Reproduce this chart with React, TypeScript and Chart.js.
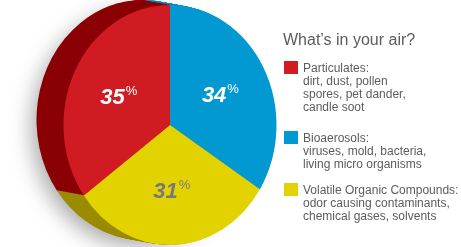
import { useEffect, useRef } from "react";
import { Chart, registerables } from "chart.js";

Chart.register(...registerables);

// ---- data ----
const categories = ["Bioaerosols", "Volatile Organic Compounds", "Particulates"];
const values = [34, 31, 35];
const percentLabels = ["34", "31", "35"];
const frontColors = ["#0299d3", "#e2d300", "#d11b23"];
const sideColors = ["#0a86bf", "#9a8b00", "#8a0005"];
const labelColors = ["#ffffff", "#77787b", "#ffffff"];

const legendTitle = "What’s in your air?";
const legendColors = ["#d11b23", "#0299d3", "#e2d300"];
const particulatesLines = ["Particulates:", "dirt, dust, pollen", "spores, pet dander,", "candle soot"];
const bioaerosolsLines = ["Bioaerosols:", "viruses, mold, bacteria,", "living micro organisms"];
const vocLines = ["Volatile Organic Compounds:", "odor causing contaminants,", "chemical gases, solvents"];
const legendLines = [particulatesLines, bioaerosolsLines, vocLines];
const legendTops = [61, 131, 183];

// ---- 3d look ----
const SX = 0.8875;
const DEPTH_X = -27;
const DEPTH_Y = -5;
const STEPS = 30;
const LABEL_R = 0.54;

function arcPath(ctx: CanvasRenderingContext2D, p: any) {
  ctx.beginPath();
  ctx.moveTo(p.x, p.y);
  ctx.arc(p.x, p.y, p.outerRadius, p.startAngle, p.endAngle);
  ctx.closePath();
}

const pie3d = {
  id: "pie3d",
  beforeDatasetsDraw(chart: any) {
    const ctx: CanvasRenderingContext2D = chart.ctx;
    const arcs = chart.getDatasetMeta(0).data;
    if (!arcs.length) return;
    const first = arcs[0].getProps(["x", "y", "outerRadius"]);
    const cx = first.x;
    const cy = first.y;
    // soft shadow behind the back face
    ctx.save();
    ctx.translate(cx + DEPTH_X, cy + DEPTH_Y);
    ctx.scale(SX, 1);
    ctx.translate(-cx, -cy);
    ctx.shadowColor = "rgba(0,0,0,0.35)";
    ctx.shadowBlur = 22;
    ctx.shadowOffsetX = -6;
    ctx.shadowOffsetY = 8;
    ctx.beginPath();
    ctx.arc(cx, cy, first.outerRadius - 2, 0, Math.PI * 2);
    ctx.fillStyle = sideColors[2];
    ctx.fill();
    ctx.restore();
    // extruded side
    for (let i = STEPS; i >= 1; i--) {
      const t = i / STEPS;
      ctx.save();
      ctx.translate(cx + DEPTH_X * t, cy + DEPTH_Y * t);
      ctx.scale(SX, 1);
      ctx.translate(-cx, -cy);
      arcs.forEach((arc: any, k: number) => {
        const p = arc.getProps(["x", "y", "startAngle", "endAngle", "outerRadius"]);
        arcPath(ctx, p);
        ctx.fillStyle = sideColors[k];
        ctx.fill();
      });
      ctx.restore();
    }
    ctx.save();
    ctx.translate(cx, cy);
    ctx.scale(SX, 1);
    ctx.translate(-cx, -cy);
  },
  afterDatasetsDraw(chart: any) {
    const ctx: CanvasRenderingContext2D = chart.ctx;
    const arcs = chart.getDatasetMeta(0).data;
    if (!arcs.length) return;
    ctx.restore();
    arcs.forEach((arc: any, k: number) => {
      const p = arc.getProps(["x", "y", "startAngle", "endAngle", "outerRadius"]);
      const mid = (p.startAngle + p.endAngle) / 2;
      const r = p.outerRadius * LABEL_R;
      const px = p.x + Math.cos(mid) * r * SX;
      const py = p.y + Math.sin(mid) * r;
      const num = percentLabels[k];
      ctx.save();
      ctx.fillStyle = labelColors[k];
      ctx.textBaseline = "alphabetic";
      ctx.textAlign = "left";
      ctx.font = "italic bold 22px 'Liberation Sans', Arial, sans-serif";
      const wNum = ctx.measureText(num).width;
      ctx.font = "13px 'Liberation Sans', Arial, sans-serif";
      const wPct = ctx.measureText("%").width;
      const total = wNum + 1 + wPct;
      const x0 = px - total / 2;
      ctx.font = "italic bold 22px 'Liberation Sans', Arial, sans-serif";
      ctx.fillText(num, x0, py + 8);
      ctx.font = "13px 'Liberation Sans', Arial, sans-serif";
      ctx.fillText("%", x0 + wNum + 1, py - 0.5);
      ctx.restore();
    });
  },
};

export default function App() {
  const canvasRef = useRef<HTMLCanvasElement | null>(null);

  useEffect(() => {
    if (!canvasRef.current) return;
    const chart = new Chart(canvasRef.current, {
      type: "pie",
      data: {
        labels: categories,
        datasets: [
          {
            data: values,
            backgroundColor: frontColors,
            borderWidth: 0,
          },
        ],
      },
      options: {
        animation: false,
        responsive: true,
        maintainAspectRatio: false,
        events: [],
        layout: { padding: { left: 50, right: 171, top: 5, bottom: 2 } },
        plugins: {
          legend: { display: false },
          tooltip: { enabled: false },
        },
      },
      plugins: [pie3d],
    });
    return () => chart.destroy();
  }, []);

  const font = "'Liberation Sans', Arial, Helvetica, sans-serif";

  return (
    <div
      style={{
        position: "fixed",
        left: 0,
        top: 0,
        width: 461,
        height: 247,
        background: "#ffffff",
        overflow: "hidden",
        fontFamily: font,
      }}
    >
      <div style={{ position: "absolute", left: 0, top: 0, width: 461, height: 247 }}>
        <canvas ref={canvasRef} />
      </div>
      <div
        style={{
          position: "absolute",
          left: 283,
          top: 31.5,
          fontSize: 16,
          lineHeight: "16px",
          color: "#5b5c5e",
          whiteSpace: "nowrap",
        }}
      >
        {legendTitle}
      </div>
      {legendLines.map((lines, i) => (
        <div key={i}>
          <div
            style={{
              position: "absolute",
              left: 284,
              top: legendTops[i],
              width: 14,
              height: 13,
              background: legendColors[i],
            }}
          />
          <div
            style={{
              position: "absolute",
              left: 303,
              top: legendTops[i] + 0.5,
              fontSize: 12,
              lineHeight: "13.2px",
              color: "#5b5c5e",
              whiteSpace: "nowrap",
            }}
          >
            {lines.map((l, j) => (
              <div key={j}>{l}</div>
            ))}
          </div>
        </div>
      ))}
    </div>
  );
}
